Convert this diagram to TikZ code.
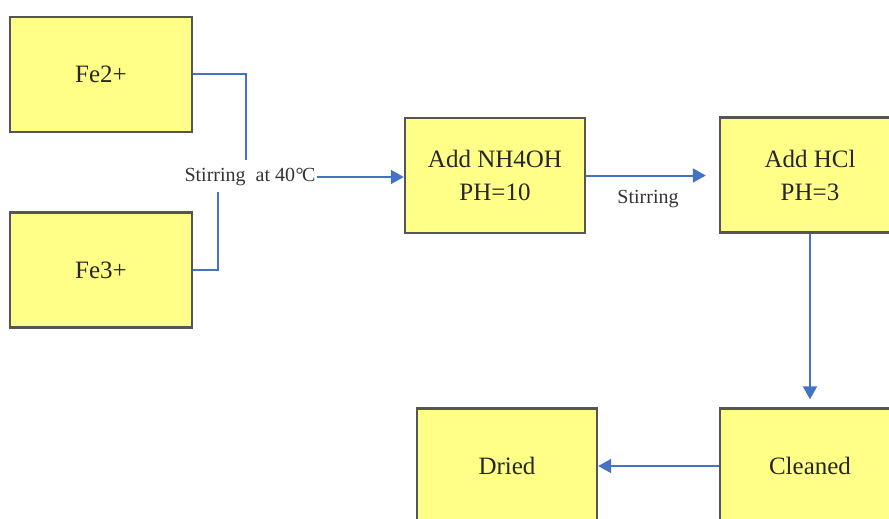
\documentclass[tikz,border=0pt]{standalone}
\usepackage{fontspec}
\setmainfont{Liberation Serif}
\usepackage{xcolor}
\usetikzlibrary{arrows.meta}

\definecolor{boxfill}{RGB}{255,255,136}
\definecolor{boxline}{RGB}{85,85,85}
\definecolor{flowblue}{RGB}{68,114,196}

\begin{document}
\begin{tikzpicture}[
  x=1pt, y=-1pt,
  box/.style={rectangle, draw=boxline, fill=boxfill, line width=2.4pt,
              minimum width=180pt, minimum height=115pt, align=center,
              text=black!85, font=\fontsize{25}{33}\selectfont},
  lbl/.style={text=black!80, inner sep=1pt, font=\fontsize{20}{23}\selectfont},
  wire/.style={flowblue, line width=2pt},
  arrow/.style={wire, -{Triangle[length=13pt, width=14pt]}}
]
\useasboundingbox (0,0) rectangle (889,519);
\clip (0,0) rectangle (889,519);

% Column 1 — Reagents
\node[box, minimum width=182pt] at (101,74.5) (fetwo)   {Fe2+};
\node[box, minimum width=182pt] at (101,270)  (fethree) {Fe3+};

% Row 1 — Precipitation
\node[box] at (495,175.5) (nhoh) {Add NH4OH\\PH=10};
\node[box] at (810,175)   (hcl)  {Add HCl\\PH=3};

% Row 2 — Finishing
\node[box] at (507,466) (dried)   {Dried};
\node[box] at (810,466) (cleaned) {Cleaned};

% Labels
\node[lbl] at (250,177) (stirA) {Stirring\ \ at 40\kern0.5pt°\kern-1.5ptC};
\node[lbl] at (648,199) (stirB) {Stirring};

% Mixing wires
\coordinate (joinA) at (246,160);
\coordinate (joinB) at (218,192);
\draw[wire] (fetwo.east)   -| (joinA);
\draw[wire] (fethree.east) -| (joinB);

% Arrows
\draw[arrow] (stirA.east) -- (stirA.east -| nhoh.west);
\draw[arrow, shorten >=13pt] (nhoh.east) -- (nhoh.east -| hcl.west);
\draw[arrow, shorten >=8pt]  (hcl.south) -- (cleaned.north);
\draw[arrow] (cleaned.west) -- (dried.east);
\end{tikzpicture}
\end{document}
